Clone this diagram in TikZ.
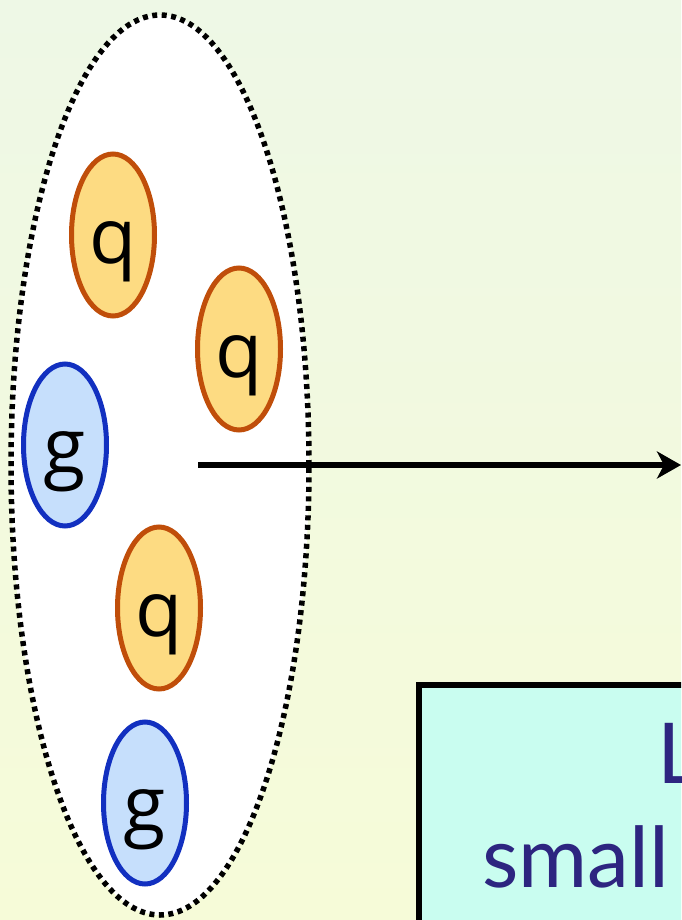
\documentclass[tikz,border=0pt]{standalone}
\usepackage{fontspec}
\setmainfont{Open Sans}
\newfontfamily\boxfont{Lato}
\usetikzlibrary{shapes.geometric,arrows.meta}
\definecolor{bgtop}{RGB}{238,248,230}
\definecolor{bgbot}{RGB}{246,251,216}
\definecolor{qfill}{RGB}{253,219,130}
\definecolor{qline}{RGB}{192,78,10}
\definecolor{gfill}{RGB}{198,223,252}
\definecolor{gline}{RGB}{18,48,192}
\definecolor{boxfill}{RGB}{201,253,240}
\definecolor{navy}{RGB}{45,37,128}
\tikzset{
  parton/.style={ellipse, line width=5pt, minimum width=83pt, minimum height=162pt,
    inner sep=0pt, text height=57pt, text depth=0pt,
    font=\fontsize{77}{77}\selectfont},
  quark/.style={parton, draw=qline, fill=qfill},
  gluon/.style={parton, draw=gline, fill=gfill},
  jet/.style={ellipse, draw=black, fill=white, line width=5.5pt,
    dash pattern=on 5pt off 4.5pt, minimum width=298pt, minimum height=900pt, inner sep=0pt},
  boxtext/.style={text=navy, font=\boxfont\fontsize{84}{84}\selectfont, inner sep=0pt},
}
\begin{document}
\begin{tikzpicture}[x=1pt,y=-1pt]
\useasboundingbox (0,0) rectangle (681,920);
\clip (0,0) rectangle (681,920);
\shade[top color=bgtop, bottom color=bgbot] (0,0) rectangle (681,920);
\node[jet] (jet) at (160,465) {};
\node[quark] (q1) at (113,235) {q};
\node[quark] (q2) at (239,349) {q};
\node[gluon] (g1) at (65,445) {g};
\node[quark] (q3) at (159,608) {q};
\node[gluon] (g2) at (145,803) {g};
\coordinate (start) at (198,465);
\coordinate (end) at (681,465);
\draw[line width=6pt, -{Stealth[length=24pt,width=27pt,inset=7pt]}] (start) -- (end);
\draw[line width=6pt, fill=boxfill] (418.5,685) rectangle (760,960);
\node[boxtext, anchor=base west] (L) at (657,783) {L};
\node[boxtext, anchor=base west] (small) at (482,887) {small};
\end{tikzpicture}
\end{document}
